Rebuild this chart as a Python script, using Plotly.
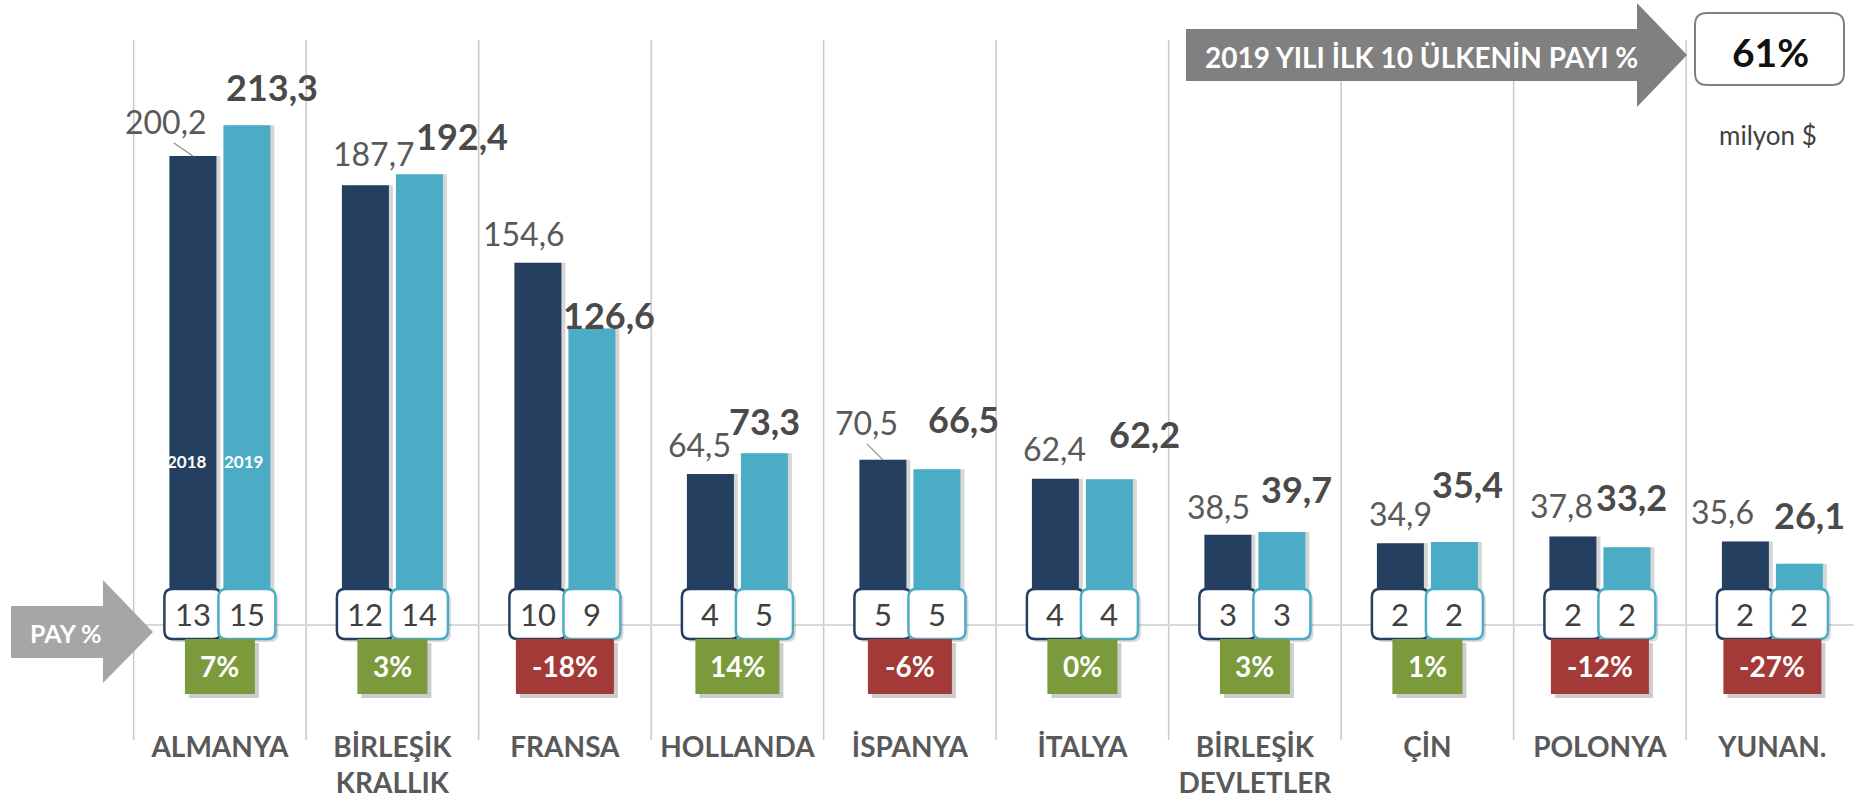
import plotly.graph_objects as go

# ---------------- data ----------------
countries = ["ALMANYA", "BİRLEŞİK<br>KRALLIK", "FRANSA", "HOLLANDA", "İSPANYA",
             "İTALYA", "BİRLEŞİK<br>DEVLETLER", "ÇİN", "POLONYA", "YUNAN."]
v2018 = [200.2, 187.7, 154.6, 64.5, 70.5, 62.4, 38.5, 34.9, 37.8, 35.6]
v2019 = [213.3, 192.4, 126.6, 73.3, 66.5, 62.2, 39.7, 35.4, 33.2, 26.1]
share2018 = [13, 12, 10, 4, 5, 4, 3, 2, 2, 2]
share2019 = [15, 14, 9, 5, 5, 4, 3, 2, 2, 2]
change_pct = [7, 3, -18, 14, -6, 0, 3, 1, -12, -27]
top10_share = 61
years = ["2018", "2019"]
unit_label = "milyon $"
top_label = "2019 YILI İLK 10 ÜLKENİN PAYI %"
pay_label = "PAY %"

# ---------------- layout geometry (pixels) ----------------
W, H = 1854, 798
PLOT_B = 715          # bottom of plot area (px from top)
CAT_W = 172.5         # px per category
CAT0 = 219.9          # px of first category centre
BASE_PY = 625         # px of value 0
PX_PER_UNIT = 2.343

xr = [(0 - CAT0) / CAT_W, (W - CAT0) / CAT_W]
yr = [(BASE_PY - PLOT_B) / PX_PER_UNIT, BASE_PY / PX_PER_UNIT]

FONT = "Lato, 'Open Sans', sans-serif"
NAVY = "#243F60"
TEAL = "#4BACC6"
GREEN = "#7A9A3B"
RED = "#A33A38"

BAR_W = 47 / CAT_W
OFF18 = -50.5 / CAT_W
OFF19 = 3.5 / CAT_W
C18 = OFF18 + BAR_W / 2
C19 = OFF19 + BAR_W / 2
SH = 4 / CAT_W

def px2x(px):
    return px / W

def py2y(py):
    return 1 - py / PLOT_B

def rrect(x0, y0, x1, y1, r):
    return (f"M{x0+r},{y0} L{x1-r},{y0} Q{x1},{y0} {x1},{y0+r} L{x1},{y1-r} "
            f"Q{x1},{y1} {x1-r},{y1} L{x0+r},{y1} Q{x0},{y1} {x0},{y1-r} "
            f"L{x0},{y0+r} Q{x0},{y0} {x0+r},{y0} Z")

xs = list(range(len(countries)))

fig = go.Figure()
# bar shadows
for vals, off in ((v2018, OFF18), (v2019, OFF19)):
    fig.add_trace(go.Bar(x=xs, y=vals, width=BAR_W, offset=off + SH,
                         marker=dict(color="rgba(0,0,0,0.16)", line=dict(width=0)),
                         showlegend=False, hoverinfo="skip"))
fig.add_trace(go.Bar(name=years[0], x=xs, y=v2018, width=BAR_W, offset=OFF18,
                     marker=dict(color=NAVY, line=dict(width=0))))
fig.add_trace(go.Bar(name=years[1], x=xs, y=v2019, width=BAR_W, offset=OFF19,
                     marker=dict(color=TEAL, line=dict(width=0))))

shapes = []
annotations = []

def ann(**kw):
    d = dict(showarrow=False, xanchor="center", yanchor="middle")
    d.update(kw)
    annotations.append(d)

# category separators
for k in range(len(countries) + 1):
    shapes.append(dict(type="line", xref="x", yref="paper", x0=k - 0.5, x1=k - 0.5,
                       y0=py2y(740), y1=py2y(40), layer="below",
                       line=dict(color="#C9C9C9", width=1.5)))
# baseline
shapes.append(dict(type="line", xref="x", yref="y", x0=-0.5, x1=len(countries) - 0.5,
                   y0=0, y1=0, layer="below", line=dict(color="#D9D9D9", width=2)))

# value labels (offsets in px relative to bar top centre)
lab18_off = [(-27, -34), (9, -32), (-14, -29), (-11, -29), (-16, -37),
             (-1, -30), (-9, -28), (0, -30), (-11, -31), (-23, -30)]
lab19_off = [(25, -38), (43, -38), (17, -13), (0, -32), (27, -50),
             (35, -45), (15, -43), (13, -58), (5, -50), (10, -49)]

def fmt(v):
    return f"{v:.1f}".replace(".", ",")

for k in xs:
    dx, dy = lab18_off[k]
    ann(x=k + C18, y=v2018[k], xref="x", yref="y", text=fmt(v2018[k]),
        xshift=dx, yshift=-dy, font=dict(family=FONT, size=32, color="#595959"))
    dx, dy = lab19_off[k]
    ann(x=k + C19, y=v2019[k], xref="x", yref="y", text=fmt(v2019[k]),
        xshift=dx, yshift=-dy, font=dict(family=FONT, size=36, color="#4A4A4A", weight="bold"))

# leader lines
for k, (lx, ly) in ((0, (-19, 13)), (4, (-16, 16))):
    shapes.append(dict(type="line", xref="x", yref="y", xsizemode="pixel", ysizemode="pixel",
                       xanchor=k + C18, yanchor=v2018[k], x0=0, y0=0, x1=lx, y1=ly,
                       line=dict(color="#8C8C8C", width=1.2)))

# share boxes
BOX_HW, BOX_HH, BOX_CY = 28.5, 25, 11
for k in xs:
    for cx, col, val in ((C18, NAVY, share2018[k]), (C19, TEAL, share2019[k])):
        shapes.append(dict(type="path", xref="x", yref="y", xsizemode="pixel", ysizemode="pixel",
                           xanchor=k + cx, yanchor=0,
                           path=rrect(-BOX_HW + 3, BOX_CY - BOX_HH - 3, BOX_HW + 3, BOX_CY + BOX_HH - 3, 8),
                           fillcolor="rgba(0,0,0,0.15)", line=dict(width=0), layer="above"))
        shapes.append(dict(type="path", xref="x", yref="y", xsizemode="pixel", ysizemode="pixel",
                           xanchor=k + cx, yanchor=0,
                           path=rrect(-BOX_HW, BOX_CY - BOX_HH, BOX_HW, BOX_CY + BOX_HH, 8),
                           fillcolor="white", line=dict(color=col, width=2.5), layer="above"))
        ann(x=k + cx, y=0, xref="x", yref="y", text=str(val), yshift=BOX_CY,
            font=dict(family=FONT, size=31, color="#404040"))

# change boxes
CH_CY = -41.5
CH_H = 55
for k in xs:
    c = change_pct[k]
    txt = f"{c}%"
    w = 42 + 14 * len(txt)
    shapes.append(dict(type="rect", xref="x", yref="y", xsizemode="pixel", ysizemode="pixel",
                       xanchor=k, yanchor=0, x0=-w / 2 + 4, x1=w / 2 + 4,
                       y0=CH_CY - CH_H / 2 - 4, y1=CH_CY + CH_H / 2 - 4,
                       fillcolor="rgba(0,0,0,0.2)", line=dict(width=0), layer="above"))
    shapes.append(dict(type="rect", xref="x", yref="y", xsizemode="pixel", ysizemode="pixel",
                       xanchor=k, yanchor=0, x0=-w / 2, x1=w / 2,
                       y0=CH_CY - CH_H / 2, y1=CH_CY + CH_H / 2,
                       fillcolor=GREEN if c >= 0 else RED, line=dict(width=0), layer="above"))
    ann(x=k, y=0, xref="x", yref="y", text=txt, yshift=CH_CY + 1,
        font=dict(family=FONT, size=28, color="white", weight="bold"))

# year labels inside first bars
ann(x=0 + C18, y=0, xref="x", yref="y", text=years[0], xshift=-6, yshift=164,
    font=dict(family=FONT, size=17, color="white", weight="bold"))
ann(x=0 + C19, y=0, xref="x", yref="y", text=years[1], xshift=-3, yshift=164,
    font=dict(family=FONT, size=17, color="white", weight="bold"))

# arrows
def arrow_path(bx0, by0, bx1, by1, hy0, hy1, tipx):
    tipy = (by0 + by1) / 2
    pts = [(bx0, by0), (bx1, by0), (bx1, hy0), (tipx, tipy), (bx1, hy1), (bx1, by1), (bx0, by1)]
    return "M" + " L".join(f"{px2x(a):.5f},{py2y(b):.5f}" for a, b in pts) + " Z"

shapes.append(dict(type="path", xref="paper", yref="paper",
                   path=arrow_path(11, 606, 103, 658, 580, 683, 153),
                   fillcolor="#A6A6A6", line=dict(width=0), layer="above"))
ann(x=px2x(65), y=py2y(633), xref="paper", yref="paper", text=pay_label,
    font=dict(family=FONT, size=25, color="white", weight="bold"))

shapes.append(dict(type="path", xref="paper", yref="paper",
                   path=arrow_path(1186, 29, 1637, 81, 3, 107, 1687),
                   fillcolor="#808080", line=dict(width=0), layer="above"))
ann(x=px2x(1421), y=py2y(57), xref="paper", yref="paper", text=top_label,
    font=dict(family=FONT, size=28, color="white", weight="bold"))

# 61% box
def rrect_paper(x0, y0, x1, y1, r):
    return (f"M{px2x(x0+r)},{py2y(y0)} L{px2x(x1-r)},{py2y(y0)} Q{px2x(x1)},{py2y(y0)} {px2x(x1)},{py2y(y0+r)} "
            f"L{px2x(x1)},{py2y(y1-r)} Q{px2x(x1)},{py2y(y1)} {px2x(x1-r)},{py2y(y1)} "
            f"L{px2x(x0+r)},{py2y(y1)} Q{px2x(x0)},{py2y(y1)} {px2x(x0)},{py2y(y1-r)} "
            f"L{px2x(x0)},{py2y(y0+r)} Q{px2x(x0)},{py2y(y0)} {px2x(x0+r)},{py2y(y0)} Z")

shapes.append(dict(type="path", xref="paper", yref="paper", path=rrect_paper(1695, 13, 1844, 85, 12),
                   fillcolor="white", line=dict(color="#808080", width=2), layer="above"))
ann(x=px2x(1770), y=py2y(52), xref="paper", yref="paper", text=f"{top10_share}%",
    font=dict(family=FONT, size=39, color="#111111", weight="bold"))
ann(x=px2x(1768), y=py2y(135), xref="paper", yref="paper", text=unit_label,
    font=dict(family=FONT, size=26, color="#404040"))

fig.update_layout(
    width=W, height=H,
    margin=dict(l=0, r=0, t=0, b=H - PLOT_B, pad=0),
    paper_bgcolor="white", plot_bgcolor="white",
    showlegend=False, barmode="overlay",
    xaxis=dict(range=xr, tickmode="array", tickvals=xs, ticktext=countries,
               showgrid=False, zeroline=False, showline=False, ticks="",
               ticklabelstandoff=13,
               tickfont=dict(family=FONT, size=28, color="#595959", weight="bold"),
               fixedrange=True),
    yaxis=dict(range=yr, showgrid=False, zeroline=False, showline=False,
               showticklabels=False, ticks="", fixedrange=True),
    shapes=shapes, annotations=annotations,
)

fig.write_html("out.html", config={"displayModeBar": False},
               post_script="document.body.style.margin='0px';document.body.style.overflow='hidden';")
